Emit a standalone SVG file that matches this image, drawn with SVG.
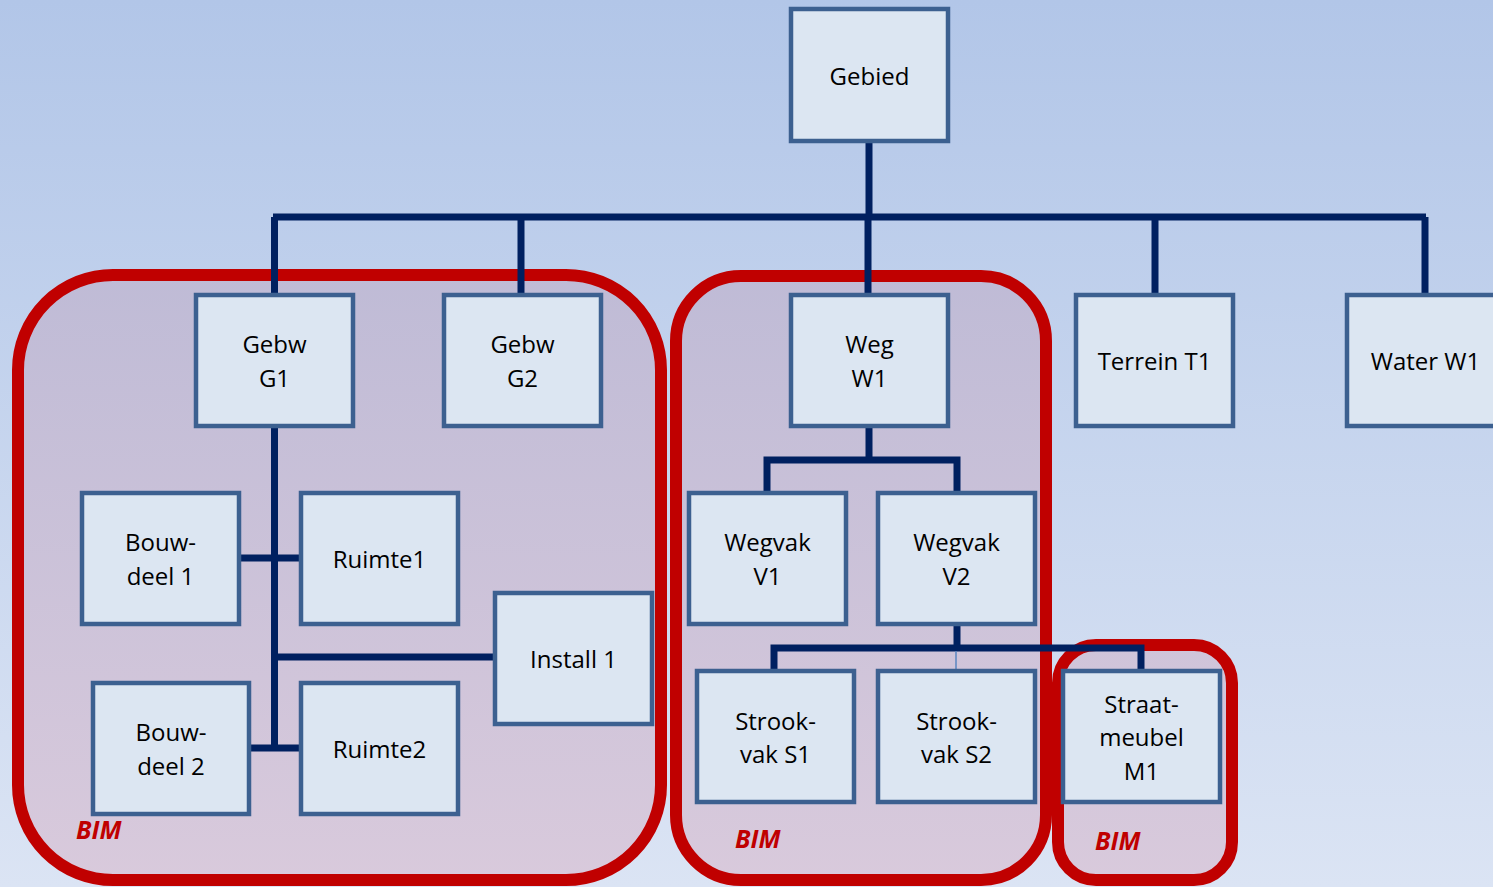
<svg xmlns="http://www.w3.org/2000/svg" width="1493" height="887" viewBox="0 0 1493 887">
<defs>
<linearGradient id="bg" x1="0" y1="0" x2="0" y2="1">
<stop offset="0" stop-color="#b2c6e8"/>
<stop offset="1" stop-color="#dbe4f4"/>
</linearGradient>
<linearGradient id="grp" gradientUnits="userSpaceOnUse" x1="0" y1="270" x2="0" y2="887">
<stop offset="0" stop-color="#bfbbd6"/>
<stop offset="1" stop-color="#d9cadc"/>
</linearGradient>
<style>
.grp{fill:url(#grp);stroke:#c00000;stroke-width:12}
.con{fill:none;stroke:#002060;stroke-width:7}
.thin{fill:none;stroke:#5a86c0;stroke-width:1.5}
.box{fill:#dce6f2;stroke:#3c6090;stroke-width:4.5}
.t{font-family:"Open Sans","Noto Sans",sans-serif;font-size:24px;fill:#000;text-anchor:middle}
.bim{font-family:"Open Sans","Noto Sans",sans-serif;font-size:25px;font-weight:bold;font-style:italic;fill:#c00000}
</style>
</defs>
<rect x="0" y="0" width="1493" height="887" fill="url(#bg)"/>
<g id="groups">
<rect id="bim1" class="grp" x="18" y="275" width="643" height="605" rx="95" ry="95"/>
<rect id="bim2" class="grp" x="676" y="276" width="370" height="604" rx="65" ry="65"/>
<rect id="bim3" class="grp" x="1058" y="645" width="174" height="235" rx="38" ry="38"/>
</g>
<g id="connectors">
<path class="con" d="M869,141V217M273,217H1426M274.5,217V295M521,217V295M868,217V295M1155,217V295M1425,217V295"/>
<path class="con" d="M274.5,426V748M240,558H301M274.5,657H494M250,748H301"/>
<path class="con" d="M869,426V460M767,492V460H957V492"/>
<path class="con" d="M957,624V648M774,670V648H1141V670"/>
<path class="thin" d="M956,651V670"/>
</g>
<g id="n-gebied"><rect class="box" x="791" y="9" width="157" height="132"/><text class="t" x="869.5" y="85">Gebied</text></g>
<g id="n-g1"><rect class="box" x="196" y="295" width="157" height="131"/><text class="t" x="274.5" y="353">Gebw</text><text class="t" x="274.5" y="387">G1</text></g>
<g id="n-g2"><rect class="box" x="444" y="295" width="157" height="131"/><text class="t" x="522.5" y="353">Gebw</text><text class="t" x="522.5" y="387">G2</text></g>
<g id="n-w1"><rect class="box" x="791" y="295" width="157" height="131"/><text class="t" x="869.5" y="353">Weg</text><text class="t" x="869.5" y="387">W1</text></g>
<g id="n-t1"><rect class="box" x="1076" y="295" width="157" height="131"/><text class="t" x="1154.5" y="370">Terrein T1</text></g>
<g id="n-water"><rect class="box" x="1347" y="295" width="157" height="131"/><text class="t" x="1425.5" y="370">Water W1</text></g>
<g id="n-bd1"><rect class="box" x="82" y="493" width="157" height="131"/><text class="t" x="160.5" y="551">Bouw-</text><text class="t" x="160.5" y="585">deel 1</text></g>
<g id="n-r1"><rect class="box" x="301" y="493" width="157" height="131"/><text class="t" x="379.5" y="568">Ruimte1</text></g>
<g id="n-inst"><rect class="box" x="495" y="593" width="157" height="131"/><text class="t" x="573.5" y="668">Install 1</text></g>
<g id="n-bd2"><rect class="box" x="93" y="683" width="156" height="131"/><text class="t" x="171" y="741">Bouw-</text><text class="t" x="171" y="775">deel 2</text></g>
<g id="n-r2"><rect class="box" x="301" y="683" width="157" height="131"/><text class="t" x="379.5" y="758">Ruimte2</text></g>
<g id="n-v1"><rect class="box" x="689" y="493" width="157" height="131"/><text class="t" x="767.5" y="551">Wegvak</text><text class="t" x="767.5" y="585">V1</text></g>
<g id="n-v2"><rect class="box" x="878" y="493" width="157" height="131"/><text class="t" x="956.5" y="551">Wegvak</text><text class="t" x="956.5" y="585">V2</text></g>
<g id="n-s1"><rect class="box" x="697" y="671" width="157" height="131"/><text class="t" x="775.5" y="730">Strook-</text><text class="t" x="775.5" y="763">vak S1</text></g>
<g id="n-s2"><rect class="box" x="878" y="671" width="157" height="131"/><text class="t" x="956.5" y="730">Strook-</text><text class="t" x="956.5" y="763">vak S2</text></g>
<g id="n-m1"><rect class="box" x="1063" y="671" width="157" height="131"/><text class="t" x="1141.5" y="713">Straat-</text><text class="t" x="1141.5" y="746">meubel</text><text class="t" x="1141.5" y="780">M1</text></g>
<g id="labels">
<text class="bim" x="76" y="839">BIM</text>
<text class="bim" x="735" y="848">BIM</text>
<text class="bim" x="1095" y="850">BIM</text>
</g>
</svg>
